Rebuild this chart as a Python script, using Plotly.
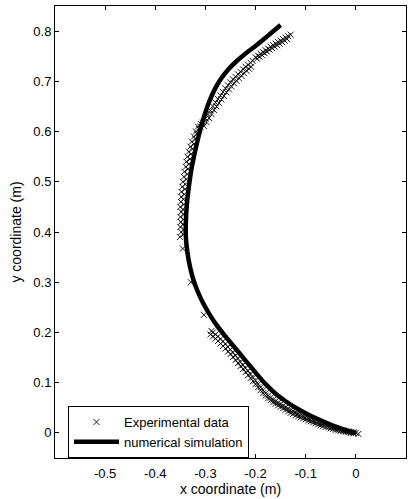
import plotly.graph_objects as go

# Numerical simulation (thick line)
sim_x = [0.0, -0.025, -0.05, -0.075, -0.1, -0.12, -0.14, -0.16, -0.18, -0.2,
         -0.22, -0.24, -0.26, -0.278, -0.293, -0.306, -0.316, -0.324, -0.331, -0.336,
         -0.339, -0.339, -0.337, -0.333, -0.327, -0.319, -0.31, -0.302, -0.293, -0.282,
         -0.269, -0.254, -0.237, -0.218, -0.197, -0.175, -0.15]
sim_y = [0.0, 0.007, 0.016, 0.027, 0.039, 0.05, 0.063, 0.078, 0.097, 0.12,
         0.144, 0.168, 0.192, 0.215, 0.238, 0.261, 0.283, 0.305, 0.332, 0.36,
         0.39, 0.42, 0.455, 0.49, 0.53, 0.568, 0.605, 0.632, 0.658, 0.683,
         0.705, 0.724, 0.741, 0.757, 0.773, 0.791, 0.812]

exp_bottom_x = [0.005, 0.0, -0.005, -0.01, -0.015, -0.02, -0.025, -0.03, -0.035, -0.04,
                -0.045, -0.05, -0.055, -0.06, -0.065, -0.07, -0.075, -0.08, -0.085, -0.09,
                -0.095, -0.1, -0.105, -0.11, -0.115, -0.12, -0.125, -0.13, -0.135, -0.14,
                -0.145, -0.15, -0.155, -0.16, -0.165, -0.17, -0.175, -0.18, -0.185, -0.19,
                -0.195, -0.2, -0.205, -0.21, -0.215, -0.22, -0.225, -0.23, -0.235, -0.24,
                -0.245, -0.25, -0.255, -0.26, -0.265, -0.27, -0.275, -0.28, -0.285, -0.288]
exp_bottom_y = [-0.002, 0.0, 0.001, 0.002, 0.003, 0.004, 0.005, 0.006, 0.008, 0.009,
                0.011, 0.012, 0.014, 0.016, 0.018, 0.019, 0.021, 0.023, 0.025, 0.027,
                0.029, 0.031, 0.033, 0.035, 0.038, 0.04, 0.043, 0.045, 0.048, 0.051,
                0.054, 0.057, 0.06, 0.063, 0.066, 0.07, 0.074, 0.079, 0.085, 0.091,
                0.097, 0.104, 0.11, 0.117, 0.123, 0.129, 0.135, 0.141, 0.148, 0.154,
                0.16, 0.166, 0.171, 0.177, 0.182, 0.187, 0.192, 0.196, 0.2, 0.203]

exp_bottom2_x = [-0.29, -0.285, -0.28, -0.275, -0.27, -0.265, -0.26, -0.255, -0.25, -0.245,
                 -0.24, -0.235, -0.23, -0.225, -0.22, -0.215, -0.21, -0.205, -0.2, -0.195,
                 -0.19, -0.185, -0.18, -0.175, -0.17, -0.165, -0.16, -0.155, -0.15, -0.145,
                 -0.14, -0.135, -0.13, -0.125, -0.12, -0.115, -0.11, -0.105, -0.1, -0.095,
                 -0.09, -0.085, -0.08, -0.075, -0.07, -0.065, -0.06, -0.055, -0.05, -0.045,
                 -0.04, -0.035, -0.03, -0.025, -0.02, -0.015, -0.01, -0.005]
exp_bottom2_y = [0.196, 0.192, 0.188, 0.183, 0.178, 0.173, 0.168, 0.162, 0.157, 0.151,
                 0.145, 0.139, 0.133, 0.127, 0.121, 0.115, 0.109, 0.103, 0.097, 0.091,
                 0.085, 0.079, 0.074, 0.069, 0.065, 0.061, 0.058, 0.055, 0.052, 0.049,
                 0.046, 0.043, 0.04, 0.038, 0.035, 0.033, 0.031, 0.029, 0.027, 0.025,
                 0.023, 0.021, 0.019, 0.017, 0.015, 0.014, 0.012, 0.011, 0.009, 0.008,
                 0.006, 0.005, 0.004, 0.003, 0.002, 0.001, 0.0, -0.001]

exp_single_x = [-0.303, -0.329, -0.345]
exp_single_y = [0.235, 0.30, 0.367]

exp_left_x = [-0.351, -0.344, -0.348, -0.343, -0.350, -0.345, -0.349, -0.344, -0.350, -0.343,
              -0.348, -0.345, -0.350, -0.343, -0.349, -0.344, -0.348, -0.342, -0.348, -0.341,
              -0.346, -0.340, -0.345, -0.338, -0.343, -0.336, -0.342, -0.335, -0.339, -0.333,
              -0.338, -0.331, -0.336, -0.329, -0.333, -0.326, -0.330, -0.323, -0.327, -0.320,
              -0.323, -0.317, -0.319, -0.313, -0.315, -0.309]
exp_left_y = [0.390, 0.395, 0.400, 0.405, 0.410, 0.415, 0.420, 0.425, 0.430, 0.435,
              0.440, 0.445, 0.450, 0.455, 0.460, 0.465, 0.470, 0.475, 0.480, 0.485,
              0.490, 0.495, 0.500, 0.505, 0.510, 0.515, 0.520, 0.525, 0.530, 0.535,
              0.540, 0.545, 0.550, 0.555, 0.560, 0.565, 0.570, 0.575, 0.580, 0.585,
              0.590, 0.595, 0.600, 0.605, 0.610, 0.615]

exp_right_x = [-0.31, -0.305, -0.3, -0.295, -0.29, -0.285, -0.28, -0.275, -0.27, -0.265,
               -0.26, -0.255, -0.25, -0.245, -0.24, -0.235, -0.23, -0.225, -0.22, -0.215,
               -0.21, -0.206]
exp_right_y = [0.61, 0.618, 0.626, 0.634, 0.642, 0.65, 0.658, 0.665, 0.672, 0.679,
               0.686, 0.692, 0.698, 0.704, 0.709, 0.714, 0.719, 0.724, 0.729, 0.733,
               0.737, 0.741]
exp_right2_x = [-0.303, -0.298, -0.293, -0.288, -0.283, -0.278, -0.273, -0.268, -0.263, -0.258,
                -0.253, -0.248, -0.243, -0.238, -0.233, -0.228, -0.223, -0.218, -0.213, -0.209]
exp_right2_y = [0.611, 0.619, 0.627, 0.635, 0.643, 0.65, 0.657, 0.664, 0.671, 0.678,
                0.684, 0.69, 0.696, 0.701, 0.706, 0.711, 0.716, 0.721, 0.725, 0.729]

exp_top_x = [-0.2, -0.195, -0.19, -0.185, -0.18, -0.175, -0.17, -0.165, -0.16, -0.155,
             -0.15, -0.145, -0.14, -0.135, -0.13]
exp_top_y = [0.748, 0.751, 0.755, 0.758, 0.762, 0.765, 0.769, 0.772, 0.775, 0.778,
             0.781, 0.784, 0.787, 0.79, 0.793]
exp_top2_x = [-0.197, -0.192, -0.187, -0.182, -0.177, -0.172, -0.167, -0.162, -0.157, -0.152,
              -0.147, -0.142, -0.137]
exp_top2_y = [0.745, 0.749, 0.752, 0.756, 0.759, 0.763, 0.766, 0.769, 0.772, 0.775,
              0.778, 0.781, 0.784]

exp_x = (exp_bottom_x + exp_bottom2_x + exp_single_x + exp_left_x
         + exp_right_x + exp_right2_x + exp_top_x + exp_top2_x)
exp_y = (exp_bottom_y + exp_bottom2_y + exp_single_y + exp_left_y
         + exp_right_y + exp_right2_y + exp_top_y + exp_top2_y)

x_ticks = [-0.5, -0.4, -0.3, -0.2, -0.1, 0, 0.1]
x_tick_text = ["-0.5", "-0.4", "-0.3", "-0.2", "-0.1", "0", "0.1"]
y_ticks = [0, 0.1, 0.2, 0.3, 0.4, 0.5, 0.6, 0.7, 0.8]
y_tick_text = ["0", "0.1", "0.2", "0.3", "0.4", "0.5", "0.6", "0.7", "0.8"]

FONT = "Liberation Sans, Arial, sans-serif"

fig = go.Figure()
fig.add_trace(go.Scatter(
    x=exp_x, y=exp_y, mode="markers", name="Experimental data",
    marker=dict(symbol="x-thin", size=6, line=dict(color="black", width=0.9), color="black"),
))
fig.add_trace(go.Scatter(
    x=sim_x, y=sim_y, mode="lines", name="numerical simulation",
    line=dict(color="black", width=4.5, shape="spline", smoothing=0.8),
))

axis_common = dict(
    showline=True, linecolor="black", linewidth=1, mirror="ticks",
    ticks="inside", ticklen=4, tickcolor="black", showgrid=False, zeroline=False,
    tickfont=dict(family=FONT, size=13, color="black"),
)
fig.update_xaxes(range=[-0.6, 0.1], tickvals=x_ticks, ticktext=x_tick_text,
                 ticklabelstandoff=3,
                 title=dict(text="x coordinate (m)", font=dict(family=FONT, size=14, color="black"), standoff=2),
                 **axis_common)
fig.update_yaxes(range=[-0.05, 0.85], tickvals=y_ticks, ticktext=y_tick_text,
                 title=dict(text="y coordinate (m)", font=dict(family=FONT, size=14, color="black"), standoff=8),
                 **axis_common)

fig.update_layout(
    width=414, height=499,
    margin=dict(l=55, r=8, t=6, b=41),
    plot_bgcolor="white", paper_bgcolor="white",
    font=dict(family=FONT, size=13, color="black"),
    legend=dict(x=0.037, y=0.115, xanchor="left", yanchor="top",
                bgcolor="white", bordercolor="black", borderwidth=1,
                font=dict(family=FONT, size=13, color="black"),
                itemwidth=45, tracegroupgap=0),
    showlegend=True,
)

fig.write_html("out.html")
